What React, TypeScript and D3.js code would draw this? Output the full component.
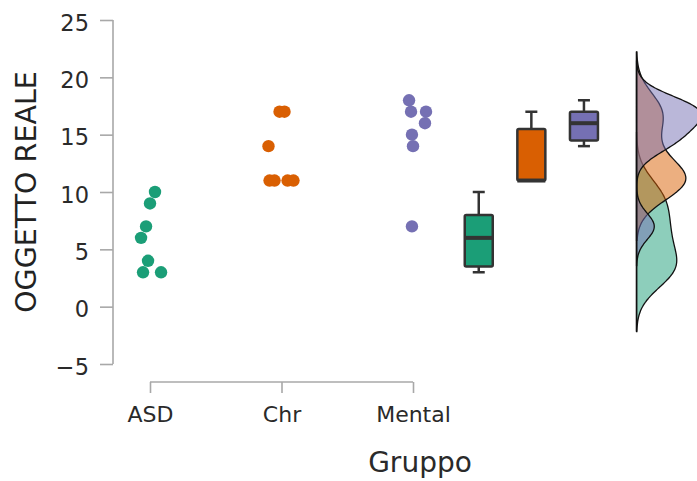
import { useEffect, useRef } from "react";
import * as d3 from "d3";

// groups and colours
const groups = ["ASD", "Chr", "Mental"];
const colors = ["#1b9e77", "#d95f02", "#7570b3"];

// raw scores per group
const asdValues = [10, 9, 7, 6, 4, 3, 3];
const chrValues = [17, 17, 14, 11, 11, 11, 11];
const mentalValues = [18, 17, 17, 16, 15, 14, 7];

// horizontal jitter of each point (in category units)
const asdJitter = [0.038, 0, -0.03, -0.068, -0.015, -0.053, 0.084];
const chrJitter = [-0.015, 0.023, -0.099, -0.091, -0.053, 0.046, 0.091];
const mentalJitter = [-0.03, -0.015, 0.099, 0.091, -0.008, 0, -0.008];

const yTicks = [-5, 0, 5, 10, 15, 20, 25];

const allValues = [asdValues, chrValues, mentalValues];
const allJitter = [asdJitter, chrJitter, mentalJitter];

const W = 697;
const H = 481;
const FONT = "DejaVu Sans, Verdana, sans-serif";

// silverman bandwidth (like R bw.nrd0)
function bandwidth(v: number[]) {
  const s = [...v].sort(d3.ascending);
  const sd = d3.deviation(s) as number;
  const iqr = (d3.quantile(s, 0.75) as number) - (d3.quantile(s, 0.25) as number);
  const lo = Math.min(sd, iqr / 1.34);
  return 0.9 * lo * Math.pow(s.length, -0.2);
}

function kde(v: number[]) {
  const bw = bandwidth(v);
  const lo = (d3.min(v) as number) - 3 * bw;
  const hi = (d3.max(v) as number) + 3 * bw;
  const n = 256;
  const pts: [number, number][] = [];
  for (let i = 0; i <= n; i++) {
    const x = lo + ((hi - lo) * i) / n;
    const dens =
      d3.sum(v, (d) => Math.exp(-0.5 * ((x - d) / bw) ** 2)) /
      (v.length * bw * Math.sqrt(2 * Math.PI));
    pts.push([x, dens]);
  }
  return pts;
}

const App = () => {
  const svgRef = useRef<SVGSVGElement>(null);

  useEffect(() => {
    const svg = d3.select(svgRef.current);
    svg.selectAll("*").remove();

    const y = d3.scaleLinear().domain([-5, 25]).range([364, 20]);
    const x = d3.scaleLinear().domain([0, 2]).range([150, 413]);

    // y axis
    const yAxis = svg.append("g").attr("transform", "translate(113,0)");
    yAxis
      .call(d3.axisLeft(y).tickValues(yTicks).tickSize(13).tickPadding(11).tickFormat((d) => d3.format("")(d as number).replace("-", "\u2212")))
      .call((g) => g.select(".domain").attr("d", `M0,${y(-5)}V${y(25)}`));
    yAxis.selectAll("line, path").attr("stroke", "#a8a8a8").attr("stroke-width", 1.6);
    yAxis.selectAll("text").attr("fill", "#2a2a2a").attr("font-size", 22.5).attr("font-family", FONT).attr("dy", "0.45em");

    // x axis
    const xAxis = svg.append("g").attr("transform", "translate(0,382)");
    xAxis
      .call(d3.axisBottom(x).tickValues([0, 1, 2]).tickSize(11).tickPadding(13).tickFormat((d) => groups[d as number]))
      .call((g) => g.select(".domain").attr("d", `M${x(0)},0H${x(2)}`));
    xAxis.selectAll("line, path").attr("stroke", "#a8a8a8").attr("stroke-width", 1.6);
    xAxis.selectAll("text").attr("fill", "#2a2a2a").attr("font-size", 22).attr("font-family", FONT);

    // axis titles
    svg
      .append("text")
      .attr("transform", `translate(36,192) rotate(-90)`)
      .attr("text-anchor", "middle")
      .attr("font-size", 28.5)
      .attr("font-family", FONT)
      .attr("fill", "#222")
      .text("OGGETTO REALE");
    svg
      .append("text")
      .attr("x", 420)
      .attr("y", 472)
      .attr("text-anchor", "middle")
      .attr("font-size", 28)
      .attr("font-family", FONT)
      .attr("fill", "#2a2a2a")
      .text("Gruppo");

    // jittered points
    allValues.forEach((vals, gi) => {
      svg
        .append("g")
        .selectAll("circle")
        .data(vals)
        .enter()
        .append("circle")
        .attr("cx", (_, i) => x(gi + allJitter[gi][i]))
        .attr("cy", (d) => y(d))
        .attr("r", 6.2)
        .attr("fill", colors[gi]);
    });

    // box plots
    const boxW = 28;
    allValues.forEach((vals, gi) => {
      const s = [...vals].sort(d3.ascending);
      const q1 = d3.quantile(s, 0.25) as number;
      const med = d3.quantile(s, 0.5) as number;
      const q3 = d3.quantile(s, 0.75) as number;
      const iqr = q3 - q1;
      const lo = d3.min(s.filter((v) => v >= q1 - 1.5 * iqr)) as number;
      const hi = d3.max(s.filter((v) => v <= q3 + 1.5 * iqr)) as number;
      const cx = x(2.5 + 0.4 * gi);
      const g = svg.append("g").attr("stroke", "#333").attr("stroke-width", 2.5);
      g.append("line").attr("x1", cx).attr("x2", cx).attr("y1", y(hi)).attr("y2", y(q3));
      g.append("line").attr("x1", cx).attr("x2", cx).attr("y1", y(lo)).attr("y2", y(q1));
      g.append("line").attr("x1", cx - 6).attr("x2", cx + 6).attr("y1", y(hi)).attr("y2", y(hi));
      g.append("line").attr("x1", cx - 6).attr("x2", cx + 6).attr("y1", y(lo)).attr("y2", y(lo));
      g.append("rect")
        .attr("x", cx - boxW / 2)
        .attr("y", y(q3))
        .attr("width", boxW)
        .attr("height", y(q1) - y(q3))
        .attr("rx", 1.5)
        .attr("fill", colors[gi]);
      g.append("line")
        .attr("x1", cx - boxW / 2)
        .attr("x2", cx + boxW / 2)
        .attr("y1", y(med))
        .attr("y2", y(med))
        .attr("stroke-width", 4);
    });

    // densities
    const dens = allValues.map(kde);
    const maxD = d3.max(dens, (p) => d3.max(p, (d) => d[1])) as number;
    const dx = d3.scaleLinear().domain([0, maxD]).range([0, 65]);
    const base = x(3.7);
    const area = d3
      .area<[number, number]>()
      .y((d) => y(d[0]))
      .x0(base)
      .x1((d) => base + dx(d[1]))
      .curve(d3.curveBasis);
    dens.forEach((p, gi) => {
      svg
        .append("path")
        .datum(p)
        .attr("d", area)
        .attr("fill", colors[gi])
        .attr("fill-opacity", 0.5)
        .attr("stroke", "#111")
        .attr("stroke-width", 1.3);
    });
    const extent = d3.extent(dens.flat(), (d) => d[0]) as [number, number];
    svg
      .append("line")
      .attr("x1", base)
      .attr("x2", base)
      .attr("y1", y(extent[0]))
      .attr("y2", y(extent[1]))
      .attr("stroke", "#111")
      .attr("stroke-width", 1.5);
  }, []);

  return (
    <svg
      ref={svgRef}
      width={W}
      height={H}
      style={{ position: "absolute", left: 0, top: 0, background: "#fff" }}
    />
  );
};

export default App;
